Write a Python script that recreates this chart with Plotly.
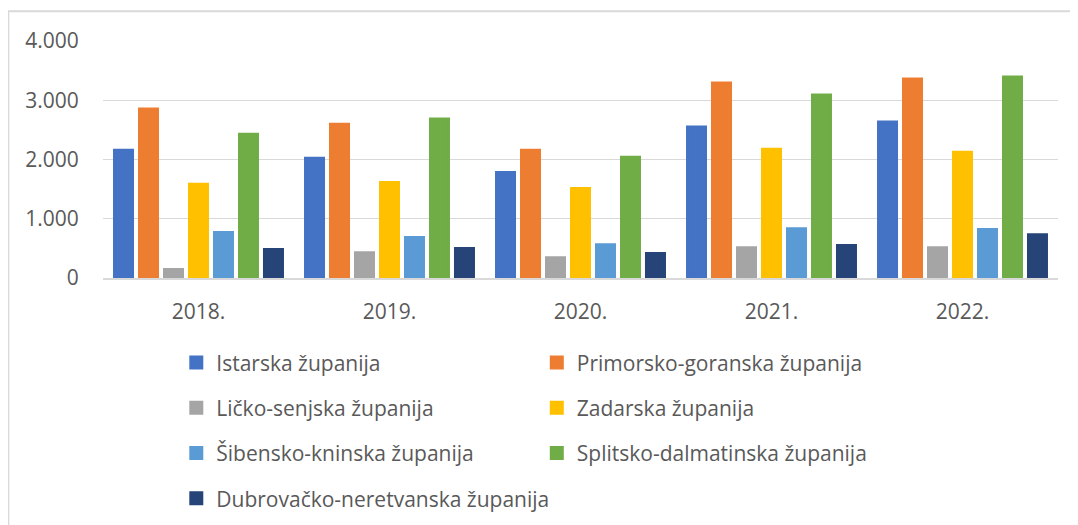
import plotly.graph_objects as go

years = ["2018.", "2019.", "2020.", "2021.", "2022."]

istarska = [2165, 2030, 1790, 2555, 2640]
primorsko = [2860, 2605, 2165, 3300, 3365]
licko = [150, 435, 350, 520, 520]
zadarska = [1590, 1620, 1520, 2180, 2130]
sibensko = [775, 690, 570, 840, 825]
splitsko = [2435, 2690, 2045, 3095, 3400]
dubrovacko = [490, 505, 420, 555, 740]

series = [
    ("Istarska županija", istarska, "#4472C4", "legend"),
    ("Primorsko-goranska županija", primorsko, "#ED7D31", "legend2"),
    ("Ličko-senjska županija", licko, "#A5A5A5", "legend"),
    ("Zadarska županija", zadarska, "#FFC000", "legend2"),
    ("Šibensko-kninska županija", sibensko, "#5B9BD5", "legend"),
    ("Splitsko-dalmatinska županija", splitsko, "#70AD47", "legend2"),
    ("Dubrovačko-neretvanska županija", dubrovacko, "#264478", "legend"),
]

W, H = 1078, 525
L, R, T, B = 94.7, 28.3, 32.7, 255.3
pw = W - L - R
ph = H - T - B

def px_x(x):
    return (x - L) / pw

def px_y(y):
    return (H - B - y) / ph

fig = go.Figure()
for name, vals, color, lg in series:
    fig.add_trace(go.Bar(
        x=years, y=vals, name=name,
        marker=dict(color=color, line=dict(color=color, width=2)),
        legend=lg, legendgroup=name,
    ))

font_family = "'Open Sans', Lato, sans-serif"
text_color = "#595959"

legend_common = dict(
    orientation="v", xanchor="left", yanchor="top",
    tracegroupgap=15, traceorder="grouped",
    font=dict(family=font_family, size=21, color=text_color),
    bgcolor="rgba(0,0,0,0)",
)

fig.update_layout(
    width=W, height=H,
    margin=dict(l=L, r=R, t=T, b=B, autoexpand=False),
    paper_bgcolor="white", plot_bgcolor="white",
    barmode="group", bargap=0.084, bargroupgap=0.24,
    separators=",.",
    font=dict(family=font_family, size=21, color=text_color),
    xaxis=dict(
        showgrid=False, showline=True, linecolor="#D9D9D9", linewidth=2,
        ticks="outside", ticklen=14, tickcolor="rgba(0,0,0,0)",
        tickfont=dict(size=21, color=text_color),
    ),
    yaxis=dict(
        range=[0, 4000], dtick=1000, tickformat=",d",
        showgrid=True, gridcolor="#D9D9D9", gridwidth=1.3,
        zeroline=False, showline=False,
        ticks="outside", ticklen=19, tickcolor="rgba(0,0,0,0)",
        tickfont=dict(size=21, color=text_color),
    ),
    legend=dict(x=px_x(168), y=px_y(334), **legend_common),
    legend2=dict(x=px_x(528.5), y=px_y(334), **legend_common),
    shapes=[dict(
        type="rect", xref="paper", yref="paper",
        x0=px_x(0), x1=px_x(1100), y0=px_y(560), y1=px_y(3),
        line=dict(color="#D9D9D9", width=2), fillcolor="rgba(0,0,0,0)",
        layer="below",
    )],
)

fig.write_html("out.html")
